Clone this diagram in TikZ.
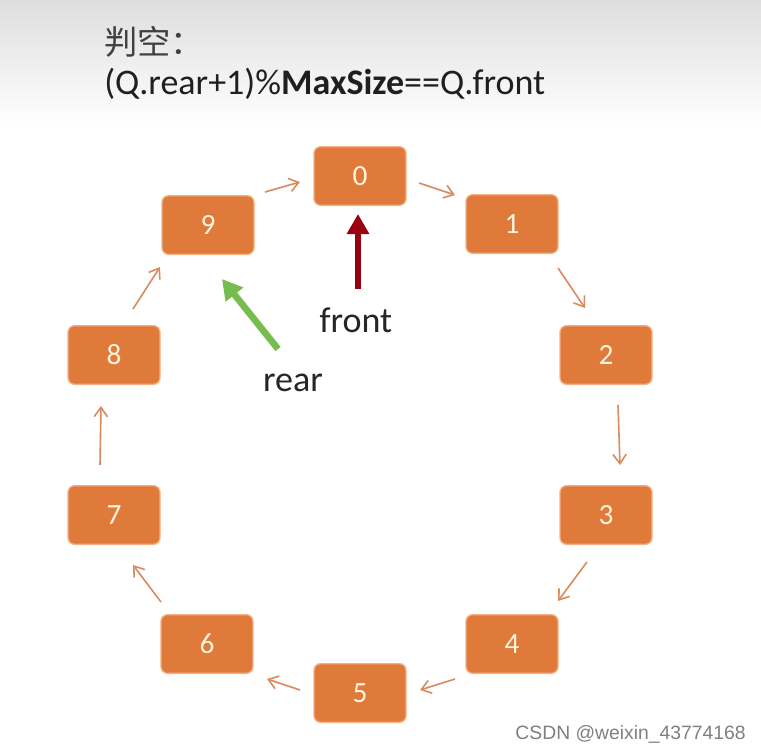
\documentclass[tikz,border=0pt]{standalone}
\usepackage{fontspec}
\setmainfont{Carlito}
\newfontfamily\cjkfont{Noto Sans CJK SC}
\newfontfamily\wmfont{Liberation Sans}
\usetikzlibrary{arrows.meta}
\definecolor{boxorange}{HTML}{E07A3A}
\definecolor{boxedge}{HTML}{F4B183}
\definecolor{arroworange}{HTML}{D98A5E}
\definecolor{frontred}{HTML}{990010}
\definecolor{reargreen}{HTML}{74BD4E}
\definecolor{numcolor}{HTML}{FFF3DC}
\tikzset{
  qbox/.style={draw=boxedge, line width=1pt, fill=boxorange, rounded corners=5pt,
    minimum width=69pt, minimum height=44pt, inner sep=0pt,
    text=numcolor, font=\fontsize{22}{22}\selectfont},
  link/.style={draw=arroworange, line width=1.2pt,
    -{Straight Barb[length=7pt, width=10pt, line width=1.2pt]}},
  bigarrow/.style={line width=5pt, -{Triangle[length=15pt, width=16pt]}},
  lbl/.style={font=\fontsize{27}{27}\selectfont, text=black!85, inner sep=0pt},
}
\begin{document}
\begin{tikzpicture}[x=0.75pt, y=-0.75pt]
\useasboundingbox (0,0) rectangle (761,753);
\fill[white] (0,0) rectangle (761,753);
\shade[top color=black!13, bottom color=white] (0,0) rectangle (761,125);
% header
\node[anchor=west, inner sep=0pt, text=black!75, font=\cjkfont\fontsize{25}{25}\selectfont] (title) at (104,42) {判空：};
\node[anchor=west, inner sep=0pt, text=black!88, font=\fontsize{27}{27}\selectfont] (formula) at (104,84) {(Q.rear+1)\%\textbf{MaxSize}==Q.front};
% boxes
\node[qbox] (b0) at (360,176) {0};
\node[qbox] (b1) at (512,224) {1};
\node[qbox] (b2) at (606,355) {2};
\node[qbox] (b3) at (606,515) {3};
\node[qbox] (b4) at (512,644) {4};
\node[qbox] (b5) at (360,693) {5};
\node[qbox] (b6) at (207,644) {6};
\node[qbox] (b7) at (114,515) {7};
\node[qbox] (b8) at (114,355) {8};
\node[qbox] (b9) at (208,225) {9};
% connector end points
\coordinate (a90s) at (265,192); \coordinate (a90e) at (300,182);
\coordinate (a01s) at (419,183); \coordinate (a01e) at (455,195);
\coordinate (a12s) at (558,268); \coordinate (a12e) at (585,308);
\coordinate (a23s) at (618,405); \coordinate (a23e) at (620,465);
\coordinate (a34s) at (587,562); \coordinate (a34e) at (558,601);
\coordinate (a45s) at (455,679); \coordinate (a45e) at (420,690);
\coordinate (a56s) at (300,690); \coordinate (a56e) at (267,679);
\coordinate (a67s) at (161,602); \coordinate (a67e) at (133,565);
\coordinate (a78s) at (100,465); \coordinate (a78e) at (101,406);
\coordinate (a89s) at (133,309); \coordinate (a89e) at (160,267);
\draw[link] (a90s) -- (a90e);
\draw[link] (a01s) -- (a01e);
\draw[link] (a12s) -- (a12e);
\draw[link] (a23s) -- (a23e);
\draw[link] (a34s) -- (a34e);
\draw[link] (a45s) -- (a45e);
\draw[link] (a56s) -- (a56e);
\draw[link] (a67s) -- (a67e);
\draw[link] (a78s) -- (a78e);
\draw[link] (a89s) -- (a89e);
% front / rear
\node[lbl] (front) at (356,320) {front};
\node[lbl] (rear) at (293,383) {rear};
\coordinate (fs) at (358,289);
\coordinate (fe) at (358,214);
\draw[bigarrow, frontred] (fs) -- (fe);
\coordinate (rs) at (278,349);
\coordinate (re) at (222,279);
\draw[bigarrow, reargreen] (rs) -- (re);
% watermark
\node[anchor=east, inner sep=0pt, text=black!50, font=\wmfont\fontsize{14.5}{14.5}\selectfont] (wm) at (746,734) {CSDN @weixin\_43774168};
\end{tikzpicture}
\end{document}
